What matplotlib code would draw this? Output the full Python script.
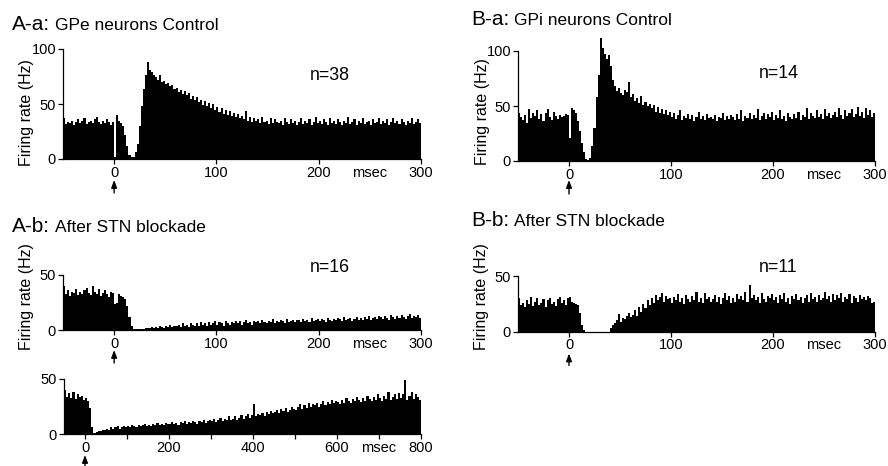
import numpy as np
import matplotlib.pyplot as plt
from matplotlib.transforms import offset_copy

plt.rcParams["font.family"] = ["Liberation Sans", "DejaVu Sans"]

W, H = 888, 466

# PSTH values (Hz), 2 ms bins starting at -50 ms, up to 300 ms
gpe_control = [
    37, 32, 34, 33, 35, 31, 34, 36, 33, 35, 37, 32, 34, 35, 33, 36, 38, 34, 32, 35, 33, 36, 34, 31, 34,
    2, 40, 35, 33, 30, 22, 12, 4, 2, 2, 6, 14, 30, 48, 64, 76, 88, 81, 79, 76,
    75, 72, 76, 70, 71, 68, 69, 66, 67, 64,
    65, 61, 63, 59, 62, 58, 60, 55, 57, 54,
    56, 52, 54, 49, 53, 48, 51, 46, 50, 45,
    47, 43, 46, 41, 45, 40, 44, 39, 42, 38,
    41, 37, 39, 36, 44, 35, 38, 34, 37, 35,
    36, 33, 38, 34, 35, 32, 37, 33, 36, 34,
    33, 35, 31, 37, 34, 32, 36, 33, 35, 31,
    34, 37, 32, 35, 33, 36, 31, 34, 38, 33,
    35, 32, 36, 34, 31, 37, 33, 35, 32, 36,
    34, 31, 35, 33, 38, 32, 34, 36, 31, 35,
    33, 37, 32, 34, 35, 31, 36, 33, 34, 37,
    32, 35, 33, 36, 31, 34, 37, 33, 35, 32,
    36, 34, 31, 35, 33, 37, 32, 34, 36, 33,
]

gpi_control = [
    44, 40, 37, 42, 35, 47, 39, 44, 41, 46, 38, 43, 36, 44, 47, 40, 37, 45, 41, 38, 42, 40, 41, 43, 42,
    21, 48, 46, 44, 36, 27, 16, 8, 2, 1, 3, 14, 30, 58, 78, 112, 103, 97, 93, 96,
    86, 74, 68, 64, 66, 62, 60, 65, 63, 72,
    58, 61, 55, 57, 53, 59, 51, 54, 50, 52,
    48, 51, 45, 49, 44, 47, 43, 46, 42, 45,
    40, 44, 38, 42, 46, 37, 41, 39, 43, 38,
    42, 36, 40, 45, 38, 41, 37, 43, 39, 40,
    38, 42, 36, 40, 39, 44, 37, 41, 38, 42,
    40, 37, 43, 38, 46, 36, 41, 39, 44, 38,
    42, 39, 47, 37, 41, 44, 38, 43, 40, 45,
    37, 42, 39, 46, 38, 41, 36, 44, 40, 38,
    43, 39, 45, 37, 42, 40, 48, 38, 44, 41,
    39, 46, 40, 43, 38, 47, 41, 44, 39, 42,
    45, 40, 48, 42, 38, 46, 41, 44, 47, 40,
    43, 49, 41, 45, 39, 48, 42, 46, 40, 44,
]

gpe_blockade = [
    40, 33, 36, 31, 35, 34, 37, 32, 35, 33, 36, 38, 34, 32, 40, 35, 33, 37, 31, 34, 36, 33, 30, 35, 34,
    24, 25, 33, 31, 30, 28, 22, 12, 4, 1, 0.5, 0.5, 0.5, 1, 1, 1.5, 2, 1.5, 2.5, 2,
    3, 2, 4, 3, 2, 4, 3, 5, 3, 4,
    4, 5, 3, 6, 4, 5, 3, 6, 5, 4,
    6, 4, 7, 5, 6, 4, 7, 5, 6, 8,
    5, 7, 6, 4, 8, 6, 5, 7, 6, 8,
    6, 8, 5, 7, 9, 6, 7, 5, 8, 7,
    8, 6, 9, 7, 6, 8, 7, 10, 6, 8,
    7, 9, 8, 6, 10, 7, 8, 9, 7, 9,
    9, 7, 10, 8, 9, 7, 11, 8, 9, 10,
    8, 10, 9, 7, 11, 9, 8, 10, 9, 11,
    10, 8, 12, 9, 10, 11, 8, 10, 12, 9,
    11, 9, 12, 10, 13, 9, 11, 12, 10, 13,
    12, 10, 13, 11, 9, 14, 12, 10, 13, 11,
    14, 12, 10, 13, 15, 11, 13, 12, 14, 11,
]

gpi_blockade = [
    30, 24, 26, 22, 28, 25, 31, 23, 27, 30, 24, 26, 29, 22, 28, 30, 25, 27, 23, 29, 31, 26, 28, 24, 30,
    31, 27, 26, 25, 24, 17, 6, 1, 0, 0, 0, 0, 0, 0, 0, 0, 0, 0, 0, 0,
    3, 6, 8, 10, 16, 9, 12, 11, 14, 17,
    13, 15, 19, 14, 22, 18, 25, 21, 28, 24,
    30, 26, 33, 28, 31, 35, 27, 32, 29, 30,
    26, 31, 28, 34, 27, 30, 25, 33, 29, 27,
    32, 28, 36, 27, 30, 26, 35, 29, 31, 27,
    29, 33, 27, 31, 25, 30, 35, 28, 32, 26,
    30, 27, 34, 29, 32, 28, 36, 27, 42, 30,
    33, 28, 31, 26, 35, 29, 27, 32, 30, 34,
    28, 31, 26, 33, 29, 35, 27, 30, 25, 32,
    29, 34, 28, 31, 26, 30, 33, 27, 35, 29,
    31, 27, 33, 28, 30, 36, 29, 32, 27, 34,
    28, 33, 30, 35, 27, 31, 29, 34, 26, 32,
    30, 27, 33, 29, 31, 28, 32, 30, 26, 27,
]

# 5 ms bins starting at -50 ms, up to 800 ms
gpe_blockade_long = [
    40, 34, 37, 33, 38, 32, 36, 34, 35, 31,
    33, 30, 24, 6, 1, 1.5, 2.5, 3, 3.5, 4,
    5, 4, 6, 5, 6, 7, 5, 6, 7, 6,
    7, 6, 8, 7, 6, 8, 7, 8, 9, 7,
    8, 7, 9, 8, 10, 8, 9, 8, 10, 9,
    9, 11, 9, 10, 8, 11, 10, 12, 9, 11,
    10, 12, 11, 9, 12, 11, 13, 10, 12, 13,
    12, 14, 11, 13, 15, 12, 14, 13, 16, 13,
    14, 16, 13, 15, 17, 14, 16, 18, 15, 17,
    27, 16, 18, 17, 19, 16, 20, 18, 21, 19,
    20, 22, 19, 23, 21, 24, 20, 22, 25, 23,
    22, 25, 27, 23, 26, 24, 28, 25, 27, 26,
    28, 25, 27, 30, 26, 29, 27, 31, 28, 30,
    29, 27, 31, 28, 33, 30, 28, 32, 30, 34,
    31, 29, 33, 30, 35, 32, 30, 34, 31, 36,
    33, 30, 35, 32, 38, 31, 34, 36, 32, 37,
    33, 36, 49, 31, 35, 38, 32, 36, 34, 31,
]


def add_axes_px(fig, x0, x1, ybot, ytop):
    return fig.add_axes([x0 / W, 1 - ybot / H, (x1 - x0) / W, (ybot - ytop) / H])


def psth_panel(fig, counts, bin_ms, t_end, box, ymax, yticks, xticks, xlabels,
               msec_x, arrow_px=(21, 34)):
    x0, x1, ybot, ytop = box
    ax = add_axes_px(fig, x0, x1, ybot, ytop)
    edges = -50 + bin_ms * np.arange(len(counts) + 1)
    ax.stairs(counts, edges, fill=True, color="black", linewidth=0)

    ax.set_xlim(-50, t_end)
    ax.set_ylim(0, ymax)
    for side in ("top", "right"):
        ax.spines[side].set_visible(False)
    ax.spines["left"].set_bounds(0, yticks[-1])
    for side in ("left", "bottom"):
        ax.spines[side].set_linewidth(0.9)

    ax.set_yticks(yticks)
    ax.set_xticks(xticks)
    ax.set_xticklabels(xlabels)
    ax.tick_params(direction="out", length=3.5, width=0.9, labelsize=10.5, pad=1.5)

    ax.annotate("msec", xy=(msec_x, 0), xycoords=("data", "axes fraction"),
                xytext=(0, -10), textcoords="offset points",
                ha="center", va="center", fontsize=10.5)

    # stimulus arrow under time zero
    base = ax.get_xaxis_transform()
    head = offset_copy(base, fig=fig, x=0, y=-arrow_px[0], units="dots")
    tail = offset_copy(base, fig=fig, x=0, y=-arrow_px[1], units="dots")
    ax.annotate("", xy=(0, 0), xycoords=head, xytext=(0, 0), textcoords=tail,
                arrowprops=dict(arrowstyle="-|>,head_length=0.45,head_width=0.17",
                                color="black", lw=1.0, shrinkA=0, shrinkB=0),
                annotation_clip=False)
    return ax


def fig_text(fig, x, y, s, **kw):
    fig.text(x / W, 1 - y / H, s, **kw)


def main():
    fig = plt.figure(figsize=(W / 100, H / 100), dpi=100)

    t300 = [0, 100, 200, 300]
    lab300 = ["0", "100", "200", "300"]

    psth_panel(fig, gpe_control, 2, 300, (63, 421, 159, 49), 100, [0, 50, 100],
               t300, lab300, 250)
    psth_panel(fig, gpi_control, 2, 300, (518, 875, 161, 34.5), 115, [0, 50, 100],
               t300, lab300, 250, arrow_px=(19, 33))
    psth_panel(fig, gpe_blockade, 2, 300, (63, 421, 330, 275), 50, [0, 50],
               t300, lab300, 250, arrow_px=(20, 33))
    psth_panel(fig, gpi_blockade, 2, 300, (518, 875, 331.5, 276), 50, [0, 50],
               t300, lab300, 250, arrow_px=(22, 34))
    t800 = list(range(0, 801, 100))
    lab800 = [str(t) if t % 200 == 0 else "" for t in t800]
    psth_panel(fig, gpe_blockade_long, 5, 800, (64, 421, 434, 379), 50, [0, 50],
               t800, lab800, 700, arrow_px=(21, 32))

    # panel titles
    titles = [
        (12, 30, "A-a:", "GPe neurons Control"),
        (471, 25, "B-a:", "GPi neurons Control"),
        (12, 232, "A-b:", "After STN blockade"),
        (471, 226, "B-b:", "After STN blockade"),
    ]
    for x, y, tag, name in titles:
        fig_text(fig, x, y, tag, fontsize=15, va="baseline")
        fig_text(fig, x + 43, y, name, fontsize=12.5, va="baseline")

    for x, y, s in [(310, 80, "n=38"), (759, 78, "n=14"),
                    (310, 272, "n=16"), (759, 272, "n=11")]:
        fig_text(fig, x, y, s, fontsize=12.8, va="baseline")

    for x, y in [(27, 113), (482, 112), (27, 297), (481, 297)]:
        fig_text(fig, x, y, "Firing rate (Hz)", rotation=90, ha="center",
                 va="center", fontsize=11.5)

    fig.savefig("out.png", dpi=100)


if __name__ == "__main__":
    main()
